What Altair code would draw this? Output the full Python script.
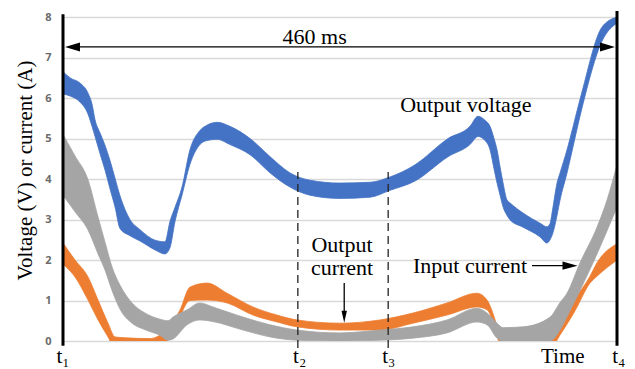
import altair as alt
import pandas as pd

# ---- data (time in ms, values in V or A) ----
blue_t = [0, 5.8, 14.1, 20.8, 24.1, 26.6, 30.7, 34.9, 39.0, 43.2,
          47.3, 55.6, 63.9, 76.4, 84.7, 88.8, 93.0, 98.8, 105.4, 113.7,
          119.6, 127.9, 138.7, 155.3, 172.0, 188.5, 205.1, 230.0, 254.9, 271.5,
          292.3, 319.7, 337.9, 344.6, 350.4, 354.6, 357.9, 360.4, 362.9, 365.4,
          368.7, 371.2, 382.0, 396.1, 401.9, 404.4, 406.8, 410.2, 412.7, 418.5,
          421.0, 430.9, 447.5, 460]
blue_hi = [6.65, 6.5, 6.37, 6.12, 5.85, 5.46, 5.14, 4.83, 4.46, 4.02,
           3.59, 3.0, 2.75, 2.49, 2.45, 2.95, 3.3, 3.8, 4.72, 5.2,
           5.33, 5.4, 5.3, 5.0, 4.55, 4.15, 3.97, 3.9, 3.92, 4.05,
           4.35, 5.0, 5.3, 5.55, 5.45, 5.3, 5.0, 4.72, 4.3, 3.9,
           3.48, 3.41, 3.16, 2.91, 2.82, 2.9, 3.3, 3.9, 4.15, 4.72,
           5.0, 6.15, 7.75, 8.0]
blue_lo = [6.1, 6.05, 5.9, 5.6, 5.3, 5.05, 4.63, 4.22, 3.76, 3.31,
           2.78, 2.6, 2.47, 2.25, 2.15, 2.3, 2.95, 3.6, 4.36, 4.85,
           4.95, 4.98, 4.85, 4.6, 4.15, 3.8, 3.6, 3.52, 3.55, 3.72,
           3.95, 4.55, 4.85, 5.05, 4.95, 4.72, 4.25, 3.9, 3.6, 3.31,
           3.1, 2.99, 2.81, 2.57, 2.42, 2.5, 2.67, 3.1, 3.48, 4.15,
           4.47, 5.75, 7.4, 7.85]

gray_t = [0, 10.0, 20.8, 29.1, 34.9, 40.7, 47.3, 57.3, 68.1, 80.5,
          87.2, 91.3, 103.0, 113.7, 124.5, 149.5, 172.0, 194.3, 230.0, 263.2,
          290.6, 318.8, 343.8, 352.1, 360.4, 365.4, 382.0, 404.4, 412.7, 418.5,
          429.3, 443.4, 451.7, 460]
gray_hi = [5.1, 4.57, 3.98, 3.06, 2.44, 1.83, 1.38, 0.94, 0.69, 0.54,
           0.5, 0.59, 0.77, 0.94, 0.84, 0.59, 0.4, 0.27, 0.2, 0.27,
           0.35, 0.52, 0.81, 0.69, 0.44, 0.33, 0.35, 0.59, 0.95, 1.18,
           1.93, 2.81, 3.48, 4.35]
gray_lo = [3.6, 3.19, 2.74, 2.15, 1.75, 1.25, 0.79, 0.44, 0.28, 0.14,
           0.02, 0.05, 0.4, 0.52, 0.48, 0.27, 0.1, 0.02, 0.0, 0.02,
           0.07, 0.2, 0.47, 0.4, 0.07, 0.0, 0.0, 0.0, 0.27, 0.6,
           1.25, 2.15, 2.72, 3.3]

orange_t = [0, 10.0, 20.8, 29.1, 37.4, 43.2, 51.5, 72.2, 84.7, 93.0,
            97.2, 105.4, 119.6, 136.2, 157.8, 177.7, 194.3, 230.0, 263.2, 290.6,
            318.8, 343.8, 352.1, 358.8, 362.9, 367.1, 404.4, 412.7, 425.2, 437.6,
            443.4, 460]
orange_hi = [2.42, 2.0, 1.58, 1.01, 0.44, 0.1, 0.08, 0.06, 0.25, 0.55,
             0.77, 1.33, 1.43, 1.18, 0.84, 0.64, 0.52, 0.44, 0.52, 0.69,
             0.94, 1.18, 1.01, 0.52, 0.1, 0.0, 0.02, 0.5, 1.05, 1.6,
             1.93, 2.4]
orange_lo = [1.9, 1.58, 1.01, 0.52, 0.1, -0.2, -0.2, -0.2, -0.05, 0.3,
             0.6, 1.0, 1.01, 0.94, 0.64, 0.47, 0.35, 0.27, 0.27, 0.44,
             0.64, 0.84, 0.77, 0.3, -0.1, -0.2, -0.2, 0.15, 0.75, 1.43,
             1.6, 2.0]

y_ticks = [0, 1, 2, 3, 4, 5, 6, 7, 8]

x_label_t = [0, 196.5, 270.5, 415, 461.5]
x_label_text = ["t₁", "t₂", "t₃", "Time", "t₄"]

marker_t = [195, 270]          # t2, t3 dashed markers
span_value = 7.26              # height of the 460 ms arrow

# ---- scales ----
xs = alt.Scale(domain=[0, 460], nice=False, zero=False)
ys = alt.Scale(domain=[0, 8], nice=False, zero=False)
yaxis = alt.Axis(values=y_ticks, title="Voltage (V) or current (A)", ticks=False, domain=False,
                 grid=True, gridColor="#d9d9d9", gridWidth=1.3,
                 labelFont="Open Sans", labelFontWeight="bold", labelFontSize=11,
                 labelColor="#6b6b6b", labelPadding=12,
                 titleFont="Liberation Serif", titleFontSize=21, titleFontWeight="normal",
                 titleColor="black", titleAngle=270, titleX=-38, titleY=153,
                 titleAlign="center", titleBaseline="middle")


def X(f):
    return alt.X(f, type="quantitative", scale=xs, axis=None)


def Y(f):
    return alt.Y(f, type="quantitative", scale=ys, axis=yaxis)


def Y2(f):
    return alt.Y2(f)


def band(t, lo, hi, color):
    df = pd.DataFrame({"t": t, "lo": lo, "hi": hi})
    return alt.Chart(df).mark_area(color=color, clip=True, stroke=color,
                                   strokeWidth=0.8, opacity=1,
                                   interpolate="monotone").encode(
        x=X("t"), y=Y("lo"), y2=Y2("hi"))


blue = band(blue_t, blue_lo, blue_hi, "#4472C4")
orange = band(orange_t, orange_lo, orange_hi, "#ED7D31")
gray = band(gray_t, gray_lo, gray_hi, "#A5A5A5")

# vertical black boundaries at t1 and t4
bounds = alt.Chart(pd.DataFrame({"t": [0, 460], "a": [-0.12, -0.12], "b": [8.07, 8.15]})).mark_rule(
    color="black", strokeWidth=3).encode(x=X("t"), y=Y("a"), y2=Y2("b"))

# dashed t2 / t3 markers
dashes = alt.Chart(pd.DataFrame({"t": marker_t, "a": [-0.17, -0.17], "b": [4.17, 4.17]})).mark_rule(
    color="#222222", strokeWidth=1.3, strokeDash=[8, 5]).encode(x=X("t"), y=Y("a"), y2=Y2("b"))

# 460 ms span arrow
span_rule = alt.Chart(pd.DataFrame({"t": [5], "t2": [455], "v": [span_value]})).mark_rule(
    color="black", strokeWidth=1.3).encode(x=X("t"), x2=alt.X2("t2"), y=Y("v"))
head_l = alt.Chart(pd.DataFrame({"t": [7.9], "v": [span_value]})).mark_point(
    shape="M -1 0 L 1 -0.6 L 1 0.6 Z", filled=True, color="black", size=225, opacity=1).encode(
    x=X("t"), y=Y("v"))
head_r = alt.Chart(pd.DataFrame({"t": [452.1], "v": [span_value]})).mark_point(
    shape="M 1 0 L -1 -0.6 L -1 0.6 Z", filled=True, color="black", size=225, opacity=1).encode(
    x=X("t"), y=Y("v"))

# output current arrow (down)
oc_rule = alt.Chart(pd.DataFrame({"t": [233.5], "a": [1.43], "b": [0.62]})).mark_rule(
    color="black", strokeWidth=1.3).encode(x=X("t"), y=Y("a"), y2=Y2("b"))
oc_head = alt.Chart(pd.DataFrame({"t": [233.5], "v": [0.6]})).mark_point(
    shape="M 0 1 L -0.45 -1 L 0.45 -1 Z", filled=True, color="black", size=144, opacity=1).encode(
    x=X("t"), y=Y("v"))

# input current arrow (right)
ic_rule = alt.Chart(pd.DataFrame({"t": [389.4], "t2": [421], "v": [1.86]})).mark_rule(
    color="black", strokeWidth=1.3).encode(x=X("t"), x2=alt.X2("t2"), y=Y("v"))
ic_head = alt.Chart(pd.DataFrame({"t": [421], "v": [1.86]})).mark_point(
    shape="M 1 0 L -1 -0.55 L -1 0.55 Z", filled=True, color="black", size=225, opacity=1).encode(
    x=X("t"), y=Y("v"))

serif = "Liberation Serif"

centered = alt.Chart(pd.DataFrame({
    "t": [209, 231.7, 231.7],
    "v": [7.5, 2.36, 1.8],
    "txt": ["460 ms", "Output", "current"],
})).mark_text(font=serif, fontSize=22, align="center", baseline="middle", color="black").encode(
    x=X("t"), y=Y("v"), text="txt:N")

left_txt = alt.Chart(pd.DataFrame({
    "t": [280, 290.6],
    "v": [5.83, 1.86],
    "txt": ["Output voltage", "Input current"],
})).mark_text(font=serif, fontSize=22, align="left", baseline="middle", color="black").encode(
    x=X("t"), y=Y("v"), text="txt:N")

xlabels = alt.Chart(pd.DataFrame({
    "t": x_label_t, "v": [-0.55] * 5, "txt": x_label_text,
})).mark_text(font=serif, fontSize=21, align="center", baseline="alphabetic", color="black").encode(
    x=X("t"), y=Y("v"), text="txt:N")

chart = alt.layer(
    blue, orange, gray, dashes, bounds, span_rule, head_l, head_r,
    oc_rule, oc_head, ic_rule, ic_head, centered, left_txt, xlabels
).properties(
    width=554, height=324,
    autosize=alt.AutoSizeParams(type="none"),
    padding={"left": 55, "top": 9, "right": 10, "bottom": 28},
).configure_view(stroke=None).configure(background="white")

chart.save("out.html", embed_options={"renderer": "svg", "actions": False})
